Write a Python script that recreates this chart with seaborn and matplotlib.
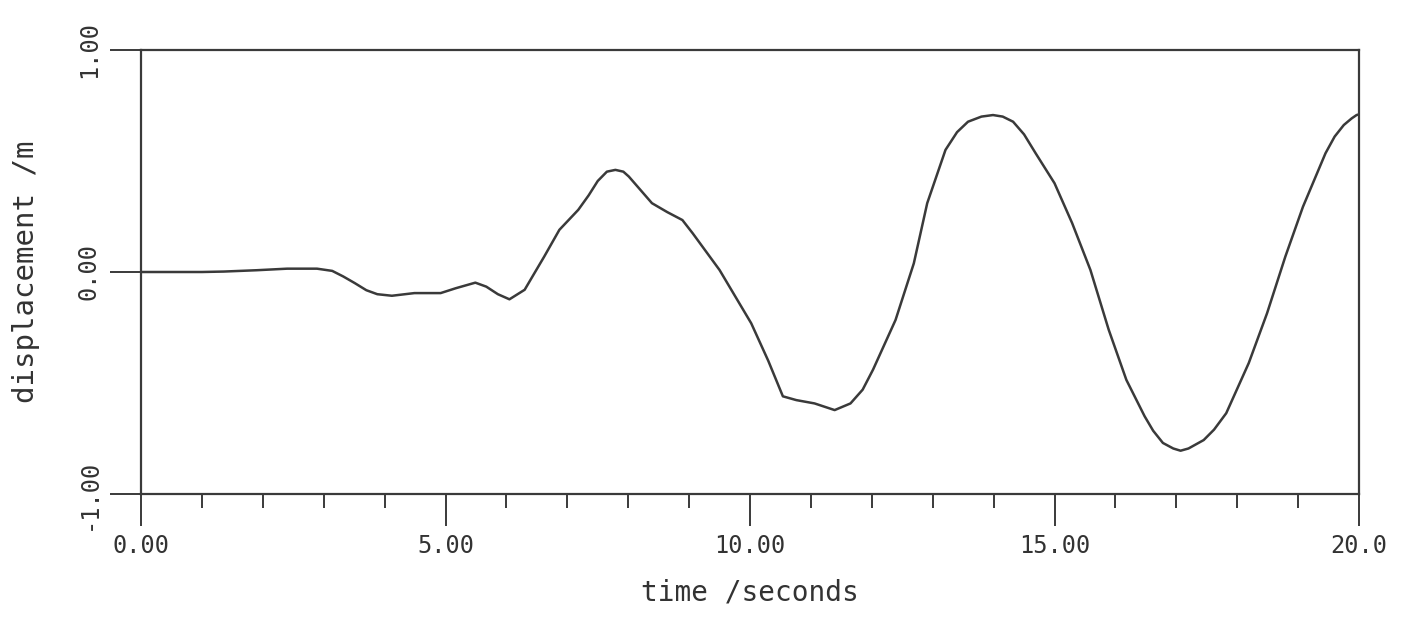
import numpy as np
import pandas as pd
import matplotlib
matplotlib.use("Agg")
import matplotlib.pyplot as plt
import seaborn as sns

# =============================
# DATA
# =============================
time_s = [0.0, 0.5, 1.0, 1.36, 1.9, 2.4, 2.89, 3.14, 3.32, 3.51, 3.7, 3.88,
          4.12, 4.49, 4.92, 5.17, 5.49, 5.67, 5.86, 6.05, 6.3, 6.45, 6.62,
          6.87, 7.18, 7.35, 7.5, 7.65, 7.79, 7.92, 8.01, 8.2, 8.39, 8.64,
          8.89, 9.06, 9.5, 10.02, 10.3, 10.54, 10.76, 11.06, 11.39, 11.65,
          11.85, 12.02, 12.39, 12.69, 12.91, 13.21, 13.4, 13.58, 13.8, 13.99,
          14.15, 14.32, 14.5, 14.69, 15.0, 15.29, 15.59, 15.89, 16.18, 16.48,
          16.62, 16.78, 16.95, 17.07, 17.2, 17.45, 17.62, 17.82, 18.19, 18.49,
          18.79, 19.08, 19.45, 19.6, 19.75, 19.88, 19.96, 20.0]
displacement = [0.0, 0.0, 0.0, 0.002, 0.008, 0.015, 0.015, 0.005, -0.02, -0.05,
                -0.082, -0.1, -0.107, -0.095, -0.095, -0.073, -0.048, -0.066,
                -0.1, -0.123, -0.08, -0.01, 0.069, 0.19, 0.28, 0.345, 0.41,
                0.452, 0.46, 0.452, 0.43, 0.37, 0.31, 0.27, 0.234, 0.174, 0.009,
                -0.231, -0.4, -0.56, -0.577, -0.592, -0.622, -0.592, -0.53,
                -0.44, -0.216, 0.039, 0.31, 0.55, 0.63, 0.677, 0.70, 0.707, 0.70,
                0.677, 0.62, 0.535, 0.4, 0.22, 0.009, -0.26, -0.486, -0.65,
                -0.715, -0.77, -0.795, -0.805, -0.795, -0.757, -0.71, -0.636,
                -0.41, -0.186, 0.069, 0.294, 0.535, 0.61, 0.662, 0.692, 0.707,
                0.71]

x_major = [0, 5, 10, 15, 20]
x_major_labels = ["0.00", "5.00", "10.00", "15.00", "20.0"]
x_minor = [1, 2, 3, 4, 6, 7, 8, 9, 11, 12, 13, 14, 16, 17, 18, 19]
y_ticks = [-1, 0, 1]
y_tick_labels = ["-1.00", "0.00", "1.00"]

df = pd.DataFrame({"time": time_s, "displacement": displacement})

# =============================
# STYLE
# =============================
sns.set_theme(style="white")
plt.rcParams["font.family"] = ["DejaVu Sans Mono", "DejaVu Sans"]

INK = "#3a3a3a"
W, H = 1401, 619

fig = plt.figure(figsize=(W / 100, H / 100), dpi=100)
ax = fig.add_axes([141 / W, 1 - 494 / H, (1359 - 141) / W, (494 - 50) / H])

sns.lineplot(data=df, x="time", y="displacement", ax=ax,
             color=INK, linewidth=1.8, estimator=None)

ax.set_xlim(0, 20)
ax.set_ylim(-1, 1)

for side in ["left", "right", "top", "bottom"]:
    ax.spines[side].set_visible(True)
    ax.spines[side].set_color(INK)
    ax.spines[side].set_linewidth(1.6)

ax.set_xticks(x_major)
ax.set_xticklabels(x_major_labels)
ax.set_xticks(x_minor, minor=True)
ax.set_yticks(y_ticks)
ax.set_yticklabels(y_tick_labels, rotation=90, va="center")

ax.tick_params(axis="x", which="major", bottom=True, direction="out",
               length=23, width=1.4, color=INK, pad=6, labelsize=17,
               labelcolor="#333333")
ax.tick_params(axis="x", which="minor", bottom=True, direction="out",
               length=10, width=1.4, color=INK)
ax.tick_params(axis="y", which="major", left=True, direction="out",
               length=22, width=1.4, color=INK, pad=7, labelsize=17,
               labelcolor="#333333")

ax.set_xlabel("time /seconds", fontsize=20, color="#333333")
ax.set_ylabel("displacement /m", fontsize=21, color="#333333")
ax.xaxis.set_label_coords(0.5, -0.19)
ax.yaxis.set_label_coords(-0.083, 0.5)

fig.savefig("out.png", dpi=100)
